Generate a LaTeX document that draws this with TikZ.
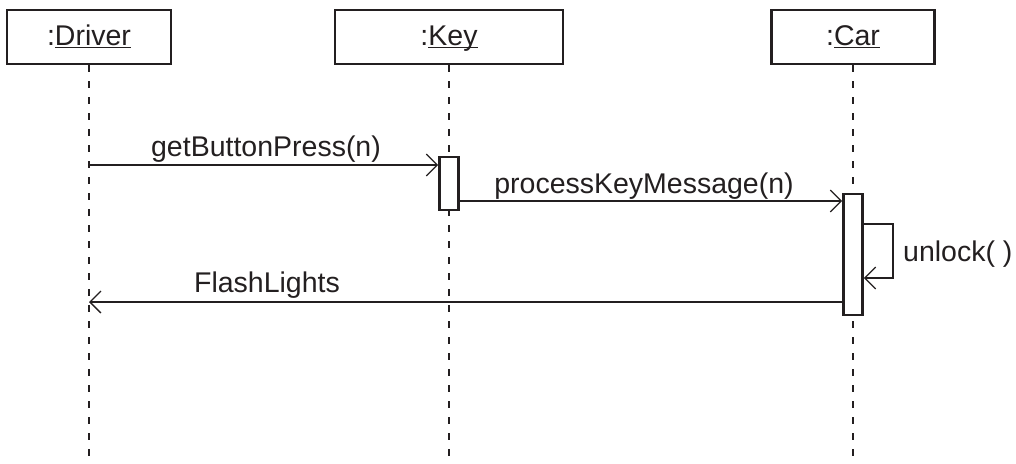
\documentclass[tikz,border=0pt]{standalone}
\usepackage{fontspec}
\setmainfont{Liberation Sans}
\usetikzlibrary{arrows.meta}
\definecolor{ink}{HTML}{231F20}
\newcommand\uln[1]{\setbox0\hbox{#1}\rlap{\rule[-2.8pt]{\wd0}{1.1pt}}\box0}
\begin{document}
\begin{tikzpicture}[x=1pt,y=-1pt,
  every node/.style={text=ink},
  lbl/.style={font=\fontsize{28.5}{34}\selectfont, inner sep=0pt},
  objbox/.style={draw=ink, line width=2.6pt, fill=white, minimum height=54pt, inner sep=0pt, text height=20pt, text depth=3pt, font=\fontsize{28.5}{34}\selectfont},
  actbox/.style={draw=ink, line width=2.6pt, fill=white, minimum width=19pt, inner sep=0pt},
  lifeline/.style={draw=ink, line width=1.3pt, dash pattern=on 7pt off 9pt},
  msg/.style={draw=ink, line width=1.3pt, -{Straight Barb[length=11pt,width=22pt,line width=1.3pt]}}
]
\useasboundingbox (0,0) rectangle (1016,463);
% objects
\node[objbox, minimum width=164pt] (drv) at (89,37) {:\uln{Driver}};
\node[objbox, minimum width=228pt] (key) at (449,37) {:\uln{Key}};
\node[objbox, minimum width=163pt] (car) at (853,37) {:\uln{Car}};
% lifeline ends
\coordinate (drvend) at (89,463);
\coordinate (keyend) at (449,463);
\coordinate (carend) at (853,463);
\draw[lifeline] (drv.south) -- (drvend);
\draw[lifeline] (key.south) -- (keyend);
\draw[lifeline] (car.south) -- (carend);
% activations
\node[actbox, minimum height=53pt] (kact) at (449,183.5) {};
\node[actbox, minimum height=121pt] (cact) at (853,254.5) {};
% message points
\coordinate (m1s) at (89,165);
\coordinate (m1e) at (kact.west |- m1s);
\coordinate (m2s) at (kact.east |- 0,201);
\coordinate (m2e) at (cact.west |- 0,201);
\coordinate (u1) at (cact.east |- 0,224);
\coordinate (u2) at (893,224);
\coordinate (u3) at (893,278);
\coordinate (u4) at (cact.east |- 0,278);
\coordinate (m4s) at (cact.west |- 0,302);
\coordinate (m4e) at (89,302);
% messages
\draw[msg] (m1s) -- (m1e);
\draw[msg] (m2s) -- (m2e);
\draw[msg] (u1) -- (u2) -- (u3) -- (u4);
\draw[msg] (m4s) -- (m4e);
% labels
\node[lbl, anchor=base] (l1) at (266,156) {getButtonPress(n)};
\node[lbl, anchor=base] (l2) at (644,193) {processKeyMessage(n)};
\node[lbl, anchor=base west] (l3) at (903,261) {unlock( )};
\node[lbl, anchor=base] (l4) at (267,292) {FlashLights};
\end{tikzpicture}
\end{document}
